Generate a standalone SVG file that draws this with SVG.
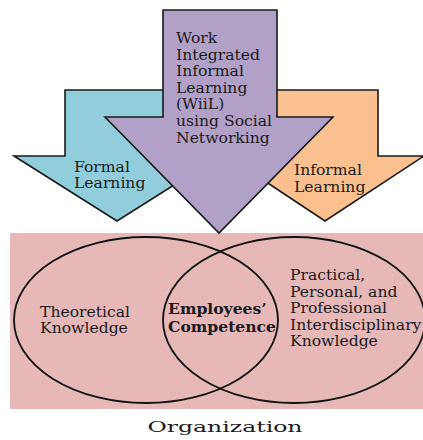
<svg xmlns="http://www.w3.org/2000/svg" width="423" height="440" viewBox="0 0 423 440">
  <style>
    .arrow { stroke: #1a1a1a; stroke-width: 1.6; stroke-linejoin: miter; }
    .ring { fill: none; stroke: #111; stroke-width: 1.8; }
    text { font-family: "DejaVu Serif", "Liberation Serif", serif; font-size: 15.6px; fill: #1a1a1a; }
    .bold { font-weight: bold; }
  </style>
  <rect width="423" height="440" fill="#ffffff"/>

  <!-- organisation field with the two knowledge domains -->
  <g id="organization">
    <rect x="10" y="233" width="413" height="176" fill="#e6b8b8"/>
    <text x="225" y="432" text-anchor="middle" font-size="22" textLength="155" lengthAdjust="spacingAndGlyphs">Organization</text>
  </g>

  <g id="theoretical">
    <ellipse class="ring" cx="146" cy="320" rx="132" ry="83"/>
    <text x="40" y="316.6">Theoretical</text>
    <text x="40" y="333.3">Knowledge</text>
  </g>

  <g id="practical">
    <ellipse class="ring" cx="294" cy="320" rx="131" ry="83"/>
    <text x="290" y="280">Practical,</text>
    <text x="290" y="296.6">Personal, and</text>
    <text x="290" y="313.2">Professional</text>
    <text x="290" y="329.8">Interdisciplinary</text>
    <text x="290" y="346.4">Knowledge</text>
  </g>

  <g id="competence">
    <text class="bold" x="168" y="314" font-size="15.2">Employees’</text>
    <text class="bold" x="168" y="331.6" font-size="15.2">Competence</text>
  </g>

  <!-- learning inputs drawn as downward block arrows -->
  <g id="formal-learning">
    <polygon class="arrow" fill="#92cddc" points="65,90 169,90 169,156 220,156 117,221 14,156 65,156"/>
    <text x="74" y="171.6">Formal</text>
    <text x="74" y="188.3">Learning</text>
  </g>

  <g id="informal-learning">
    <polygon class="arrow" fill="#fac090" points="272,90 378,90 378,156 424,156 325,221 227,156 272,156"/>
    <text x="294" y="175">Informal</text>
    <text x="294" y="191.7">Learning</text>
  </g>

  <g id="wiil">
    <polygon class="arrow" fill="#b2a1c7" points="163,10 277,10 277,117 333,117 219,233 105,117 163,117"/>
    <text x="176" y="43">Work</text>
    <text x="176" y="59.6">Integrated</text>
    <text x="176" y="76.2">Informal</text>
    <text x="176" y="92.8">Learning</text>
    <text x="176" y="109.4">(WiiL)</text>
    <text x="176" y="126">using Social</text>
    <text x="176" y="142.6">Networking</text>
  </g>

  <g id="connectors"></g>
</svg>
